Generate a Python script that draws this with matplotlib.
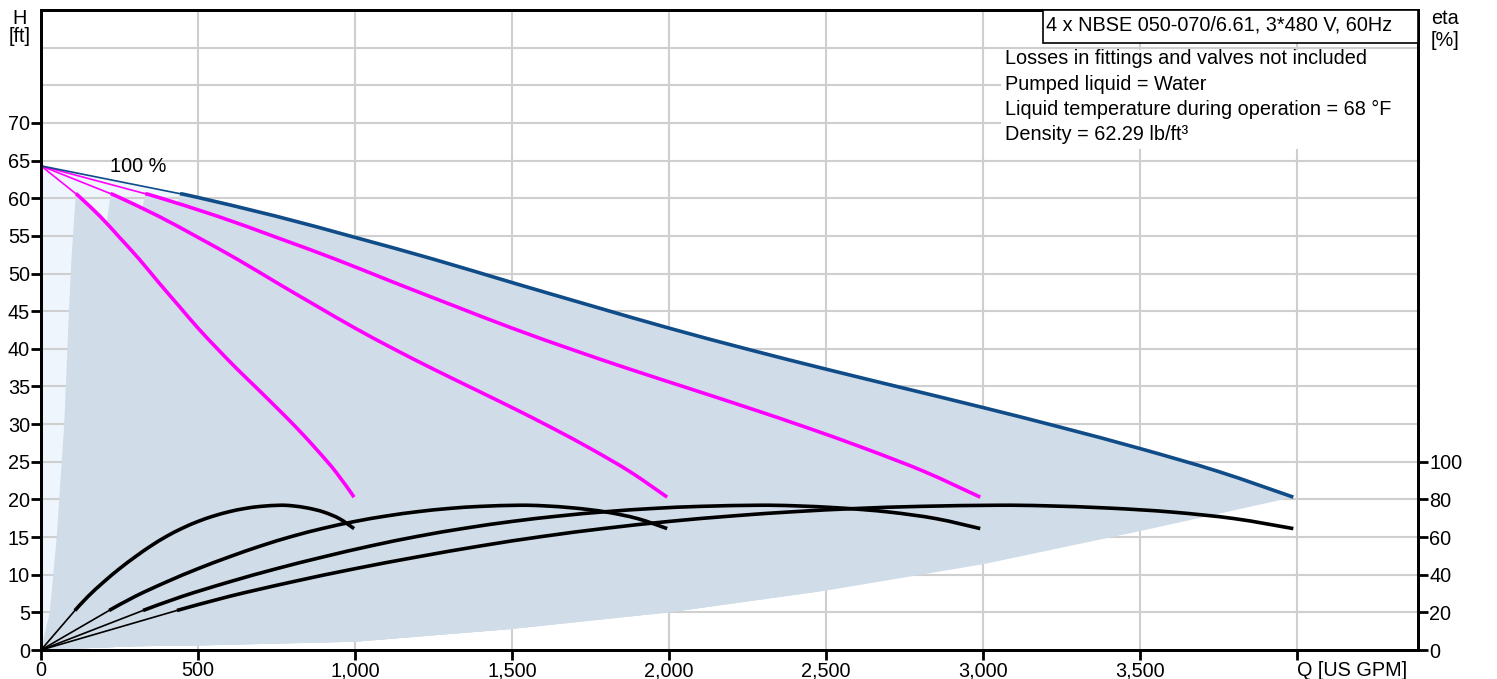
import matplotlib
matplotlib.use("Agg")
import matplotlib.pyplot as plt
from matplotlib.path import Path
from matplotlib.patches import PathPatch

plt.rcParams['font.family'] = ['Liberation Sans', 'DejaVu Sans']

# head curves, 1..4 pumps running (Q in US GPM, H in ft)
h_shutoff = 64.3
h_vals = [60.6, 60.1, 57.6, 54.8, 51.9, 48.8, 45.75, 42.75, 39.95, 37.3, 34.75, 32.2, 29.55, 26.75, 23.7, 20.3]
q_h1 = [111, 125, 188, 250, 313, 375, 438, 500, 563, 625, 688, 750, 813, 875, 938, 997]
q_h2 = [222, 250, 375, 500, 625, 750, 875, 1000, 1125, 1250, 1375, 1500, 1625, 1750, 1875, 1994]
q_h3 = [332, 375, 563, 750, 938, 1125, 1313, 1500, 1688, 1875, 2063, 2250, 2438, 2625, 2813, 2991]
q_h4 = [443, 500, 750, 1000, 1250, 1500, 1750, 2000, 2250, 2500, 2750, 3000, 3250, 3500, 3750, 3988]

# efficiency curves [%]
eta_vals = [21, 28.5, 36.2, 43.2, 49.5, 55.3, 60.4, 64.7, 68.3, 71.2, 73.5, 75.2, 76.3, 76.9, 76.6, 75.4, 73.3, 69.8, 64.5]
q_e1 = [108, 150, 200, 250, 300, 350, 400, 450, 500, 550, 600, 650, 700, 761, 800, 850, 900, 950, 997]
q_e2 = [217, 300, 400, 500, 600, 700, 800, 900, 1000, 1100, 1200, 1300, 1400, 1522, 1600, 1700, 1800, 1900, 1994]
q_e3 = [325, 450, 600, 750, 900, 1050, 1200, 1350, 1500, 1650, 1800, 1950, 2100, 2283, 2400, 2550, 2700, 2850, 2991]
q_e4 = [433, 600, 800, 1000, 1200, 1400, 1600, 1800, 2000, 2200, 2400, 2600, 2800, 3044, 3200, 3400, 3600, 3800, 3988]

# operating area boundaries
min_h = [0, 5, 15, 30, 45, 52, 60.6]
min_q1 = [0, 28, 50, 74, 89, 97, 111]
min_q2 = [0, 56, 100, 148, 178, 194, 222]
min_q3 = [0, 84, 150, 222, 267, 291, 332]
min_q4 = [0, 112, 200, 296, 356, 388, 443]
low_q = [0, 300, 500, 1000, 1500, 2000, 2500, 3000, 3500, 3988]
low_h = [0, 0.5, 0.6, 1.1, 2.8, 5.0, 7.9, 11.4, 15.8, 20.3]

x_ticks = [0, 500, 1000, 1500, 2000, 2500, 3000, 3500, 4000]
x_labels = ['0', '500', '1,000', '1,500', '2,000', '2,500', '3,000', '3,500', 'Q [US GPM]']

info_lines = ['Losses in fittings and valves not included',
              'Pumped liquid = Water',
              'Liquid temperature during operation = 68 °F',
              'Density = 62.29 lb/ft³']
title_txt = '4 x NBSE 050-070/6.61, 3*480 V, 60Hz'

blue = '#0f4c88'
magenta = '#ff00ff'
area_c = '#d0dce8'
light_c = '#eef5fd'
grid_c = '#cfcfcf'
fs = 14.3


def smooth_line(a, xs, ys, **kw):
    # draw a smooth curve through the points (Catmull-Rom as bezier)
    pts = list(zip(xs, ys))
    verts = [pts[0]]
    codes = [Path.MOVETO]
    n = len(pts)
    for i in range(n - 1):
        p0 = pts[max(i - 1, 0)]
        p1 = pts[i]
        p2 = pts[i + 1]
        p3 = pts[min(i + 2, n - 1)]
        c1 = (p1[0] + (p2[0] - p0[0]) / 6, p1[1] + (p2[1] - p0[1]) / 6)
        c2 = (p2[0] - (p3[0] - p1[0]) / 6, p2[1] - (p3[1] - p1[1]) / 6)
        verts += [c1, c2, p2]
        codes += [Path.CURVE4] * 3
    a.add_patch(PathPatch(Path(verts, codes), fill=False, **kw))


fig = plt.figure(figsize=(14.97, 6.79), dpi=100)
ax = fig.add_axes([41 / 1497, 29 / 679, 1377 / 1497, 640 / 679])
ax.set_xlim(0, 4385)
ax.set_ylim(0, 85)

# light area below the full curve
lx = [0, 0] + q_h4 + low_q[::-1]
ly = [0, h_shutoff] + h_vals + low_h[::-1]
ax.fill(lx, ly, color=light_c, lw=0, zorder=1)

# operating areas
for mq, qh in [(min_q1, q_h1), (min_q2, q_h2), (min_q3, q_h3), (min_q4, q_h4)]:
    bq = [q for q in low_q if q < qh[-1]]
    bh = low_h[:len(bq)]
    px = mq + qh + bq[::-1]
    py = min_h + h_vals + bh[::-1]
    ax.fill(px, py, color=area_c, lw=0, zorder=2)

# grid
for xv in x_ticks[1:]:
    ax.axvline(xv, color=grid_c, lw=1.5, zorder=1.5)
for yv in range(5, 85, 5):
    ax.axhline(yv, color=grid_c, lw=1.5, zorder=1.5)

# head curves
for qh, col in [(q_h1, magenta), (q_h2, magenta), (q_h3, magenta), (q_h4, blue)]:
    ax.plot([0, qh[0]], [h_shutoff, h_vals[0]], color=col, lw=1.2, zorder=4)
    smooth_line(ax, qh, h_vals, edgecolor=col, lw=2.6, zorder=4, capstyle='butt')

ax.text(220, 64.2, '100 %', fontsize=fs, va='center', ha='left', zorder=6)

# efficiency curves on twin scale
ax2 = ax.twinx()
ax2.set_ylim(0, 340)
for qe in [q_e1, q_e2, q_e3, q_e4]:
    ax2.plot([0, qe[0]], [0, eta_vals[0]], color='black', lw=1.2, zorder=4)
    smooth_line(ax2, qe, eta_vals, edgecolor='black', lw=2.6, zorder=4, capstyle='butt')

# axes styling
ax.set_xticks(x_ticks)
ax.set_xticklabels(x_labels)
ax.set_yticks(range(0, 75, 5))
ax.tick_params(axis='both', labelsize=fs, length=7, width=2, direction='out', pad=1)
ax.get_xticklabels()[-1].set_horizontalalignment('left')
ax.get_xticklabels()[-1].set_x(3985)
ax2.set_yticks([0, 20, 40, 60, 80, 100])
ax2.tick_params(axis='y', labelsize=fs, length=7, width=2, direction='out', pad=1)
for a in (ax, ax2):
    for s in a.spines.values():
        s.set_linewidth(2)
        s.set_color('black')

fig.text(20 / 1497, 1 - 18 / 679, 'H', fontsize=fs, ha='center', va='center')
fig.text(20 / 1497, 1 - 37 / 679, '[ft]', fontsize=fs, ha='center', va='center')
fig.text(1445 / 1497, 1 - 18 / 679, 'eta', fontsize=fs, ha='center', va='center')
fig.text(1445 / 1497, 1 - 40 / 679, '[%]', fontsize=fs, ha='center', va='center')

# info box: white panel behind the notes, framed title on top
panel = plt.Rectangle((1001 / 1497, 1 - 149 / 679), 416 / 1497, 99 / 679,
                      transform=fig.transFigure, fc='white', ec='none', zorder=2.2)
ax.add_patch(panel)
box = plt.Rectangle((1043 / 1497, 1 - 43 / 679), 375 / 1497, 33 / 679,
                    transform=fig.transFigure, fc='white', ec='black', lw=1.2, zorder=9)
fig.patches.append(box)
fig.text(1046 / 1497, 1 - 25 / 679, title_txt, fontsize=fs, ha='left', va='center', zorder=10)
for i, line in enumerate(info_lines):
    fig.text(1005 / 1497, 1 - (59 + 25 * i) / 679, line, fontsize=fs, ha='left', va='center', zorder=10)

fig.savefig('out.png', dpi=100)
